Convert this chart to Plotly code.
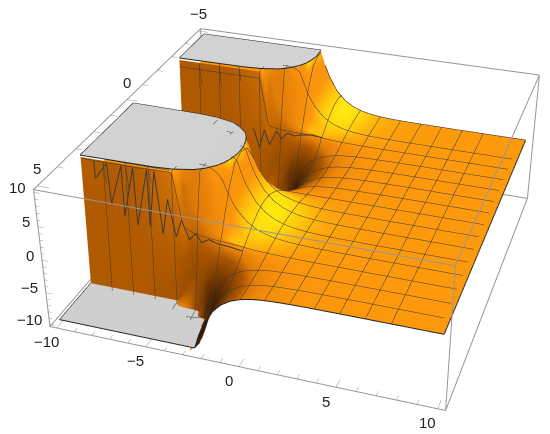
"""Clipped surface plot with grey caps, in a Mathematica-like box."""

import numpy as np
import plotly.graph_objects as go

x_grid = [-10, -7, -5, -4.5, -4, -3.5, -3, -2.75, -2.5, -2.25, -2, -1.5, -1, -0.5, 0, 0.5, 1, 1.5, 2, 3, 5, 10]
y_grid = [-5, -4.71, -4.25, -3.8, -3.5, -3.24, -3.13, -3.04, -2.8, -2.4, -2, -1.57, -1.14, -0.74, -0.34, -0.1,
          0.1, 0.34, 0.74, 1.14, 1.57, 2, 2.4, 2.8, 3.04, 3.13, 3.24, 3.5, 3.8, 4.25, 4.71, 5]

# one row per y_grid value, one column per x_grid value
z_table = [
    [10, 10, 10, 10, 10, 10, 10, 10, 9.69, 7.56, 5.88, 3.57, 2.17, 1.31, 0.8, 0.48, 0.29, 0.18, 0.11, 0.04, 0.01, 0],
    [10, 10, 10, 10, 10, 10, 10, 10, 10, 7.88, 6.13, 3.72, 2.26, 1.37, 0.83, 0.5, 0.31, 0.19, 0.11, 0.04, 0.01, 0],
    [10, 10, 10, 10, 10, 10, 10, 10, 9.04, 7.05, 5.49, 3.33, 2.02, 1.23, 0.74, 0.45, 0.27, 0.17, 0.1, 0.04, 0.01, 0],
    [10, 10, 10, 10, 10, 10, 10, 7.96, 6.18, 4.82, 3.75, 2.28, 1.38, 0.84, 0.51, 0.31, 0.19, 0.11, 0.07, 0.03, 0, 0],
    [10, 10, 10, 10, 10, 9.65, 5.86, 4.56, 3.55, 2.77, 2.15, 1.31, 0.79, 0.48, 0.29, 0.18, 0.11, 0.06, 0.04, 0.01, 0, 0],
    [10, 10, 10, 7.47, 4.53, 2.75, 1.67, 1.3, 1.01, 0.79, 0.61, 0.37, 0.23, 0.14, 0.08, 0.05, 0.03, 0.02, 0.01, 0, 0, 0],
    [10, 10, 10, 1.5, 1, 0.8, 0.7, 0.65, 0.6, 0.6, 0.55, 0.45, 0.3, 0.2, 0.12, 0.08, 0.05, 0.03, 0.02, 0.01, 0, 0],
    [-10, -10, -10, -7.47, -4.53, -2.75, -1.67, -1.3, -1.01, -0.79, -0.61, -0.37, -0.23, -0.14, -0.08, -0.05, -0.03, -0.02, -0.01, 0, 0, 0],
    [-10, -10, -10, -10, -10, -9.21, -5.59, -4.36, -3.38, -2.64, -2.05, -1.25, -0.76, -0.46, -0.28, -0.17, -0.1, -0.06, -0.04, -0.01, 0, 0],
    [-10, -10, -10, -10, -10, -10, -10, -8.76, -6.81, -5.31, -4.13, -2.51, -1.52, -0.92, -0.56, -0.34, -0.21, -0.12, -0.08, -0.03, 0, 0],
    [-10, -10, -10, -10, -10, -10, -10, -10, -9.18, -7.16, -5.57, -3.38, -2.05, -1.25, -0.75, -0.45, -0.28, -0.17, -0.1, -0.04, -0.01, 0],
    [-10, -10, -10, -10, -10, -10, -10, -10, -10, -7.88, -6.13, -3.72, -2.26, -1.37, -0.83, -0.5, -0.31, -0.19, -0.11, -0.04, -0.01, 0],
    [-10, -10, -10, -10, -10, -10, -10, -10, -9.18, -7.16, -5.57, -3.38, -2.05, -1.25, -0.75, -0.45, -0.28, -0.17, -0.1, -0.04, -0.01, 0],
    [-10, -10, -10, -10, -10, -10, -10, -8.76, -6.81, -5.31, -4.13, -2.51, -1.52, -0.92, -0.56, -0.34, -0.21, -0.12, -0.08, -0.03, 0, 0],
    [-10, -10, -10, -10, -10, -9.16, -5.56, -4.33, -3.36, -2.62, -2.04, -1.24, -0.75, -0.46, -0.28, -0.17, -0.1, -0.06, -0.04, -0.01, 0, 0],
    [-10, -10, -10, -7.47, -4.53, -2.75, -1.67, -1.3, -1.01, -0.79, -0.61, -0.37, -0.23, -0.14, -0.08, -0.05, -0.03, -0.02, -0.01, 0, 0, 0],
    [10, 10, 10, 7.47, 4.53, 2.75, 1.67, 1.3, 1.01, 0.79, 0.61, 0.37, 0.23, 0.14, 0.08, 0.05, 0.03, 0.02, 0.01, 0, 0, 0],
    [10, 10, 10, 10, 10, 9.16, 5.56, 4.33, 3.36, 2.62, 2.04, 1.24, 0.75, 0.46, 0.28, 0.17, 0.1, 0.06, 0.04, 0.01, 0, 0],
    [10, 10, 10, 10, 10, 10, 10, 8.76, 6.81, 5.31, 4.13, 2.51, 1.52, 0.92, 0.56, 0.34, 0.21, 0.12, 0.08, 0.03, 0, 0],
    [10, 10, 10, 10, 10, 10, 10, 10, 9.18, 7.16, 5.57, 3.38, 2.05, 1.25, 0.75, 0.45, 0.28, 0.17, 0.1, 0.04, 0.01, 0],
    [10, 10, 10, 10, 10, 10, 10, 10, 10, 7.88, 6.13, 3.72, 2.26, 1.37, 0.83, 0.5, 0.31, 0.19, 0.11, 0.04, 0.01, 0],
    [10, 10, 10, 10, 10, 10, 10, 10, 9.18, 7.16, 5.57, 3.38, 2.05, 1.25, 0.75, 0.45, 0.28, 0.17, 0.1, 0.04, 0.01, 0],
    [10, 10, 10, 10, 10, 10, 10, 8.76, 6.81, 5.31, 4.13, 2.51, 1.52, 0.92, 0.56, 0.34, 0.21, 0.12, 0.08, 0.03, 0, 0],
    [10, 10, 10, 10, 10, 9.21, 5.59, 4.36, 3.38, 2.64, 2.05, 1.25, 0.76, 0.46, 0.28, 0.17, 0.1, 0.06, 0.04, 0.01, 0, 0],
    [10, 10, 10, 7.47, 4.53, 2.75, 1.67, 1.3, 1.01, 0.79, 0.61, 0.37, 0.23, 0.14, 0.08, 0.05, 0.03, 0.02, 0.01, 0, 0, 0],
    [10, 10, 10, 1.5, 1, 0.8, 0.7, 0.65, 0.6, 0.6, 0.55, 0.45, 0.3, 0.2, 0.12, 0.08, 0.05, 0.03, 0.02, 0.01, 0, 0],
    [-10, -10, -10, -7.47, -4.53, -2.75, -1.67, -1.3, -1.01, -0.79, -0.61, -0.37, -0.23, -0.14, -0.08, -0.05, -0.03, -0.02, -0.01, 0, 0, 0],
    [-10, -10, -10, -10, -10, -9.65, -5.86, -4.56, -3.55, -2.77, -2.15, -1.31, -0.79, -0.48, -0.29, -0.18, -0.11, -0.06, -0.04, -0.01, 0, 0],
    [-10, -10, -10, -10, -10, -10, -10, -7.96, -6.18, -4.82, -3.75, -2.28, -1.38, -0.84, -0.51, -0.31, -0.19, -0.11, -0.07, -0.03, 0, 0],
    [-10, -10, -10, -10, -10, -10, -10, -10, -9.04, -7.05, -5.49, -3.33, -2.02, -1.23, -0.74, -0.45, -0.27, -0.17, -0.1, -0.04, -0.01, 0],
    [-10, -10, -10, -10, -10, -10, -10, -10, -10, -7.88, -6.13, -3.72, -2.26, -1.37, -0.83, -0.5, -0.31, -0.19, -0.11, -0.04, -0.01, 0],
    [-10, -10, -10, -10, -10, -10, -10, -10, -9.69, -7.56, -5.88, -3.57, -2.17, -1.31, -0.8, -0.48, -0.29, -0.18, -0.11, -0.04, -0.01, 0],
]

# outlines of the clipped areas
cap_top_far_x = [-10, -2.53, -2.49, -2.5, -2.6, -2.75, -3, -3.5, -4, -5, -6, -10]
cap_top_far_y = [-5, -5, -4.71, -4.54, -4.25, -4.01, -3.78, -3.51, -3.36, -3.22, -3.17, -3.14]
cap_top_mid_x = [-10, -6, -5, -4, -3.5, -3, -2.75, -2.6, -2.5, -2.49, -2.5, -2.6, -2.75, -3, -3.5, -4, -5, -6, -10]
cap_top_mid_y = [0, 0.03, 0.08, 0.22, 0.37, 0.64, 0.87, 1.11, 1.4, 1.57, 1.74, 2.03, 2.27, 2.5, 2.77, 2.92, 3.06, 3.11, 3.14]
cap_low_mid_x = [-10, -6, -5, -4, -3.5, -3, -2.75, -2.6, -2.5, -2.49, -2.5, -2.6, -2.75, -3, -3.5, -4, -5, -6, -10]
cap_low_mid_y = [-3.14, -3.11, -3.06, -2.92, -2.77, -2.5, -2.27, -2.03, -1.74, -1.57, -1.4, -1.11, -0.87, -0.64, -0.37, -0.22, -0.08, -0.03, 0]
cap_low_near_x = [-10, -6, -5, -4, -3.5, -3, -2.75, -2.6, -2.5, -2.49, -2.53, -10]
cap_low_near_y = [3.14, 3.17, 3.22, 3.36, 3.51, 3.78, 4.01, 4.25, 4.54, 4.71, 5, 5]

# the mesh line that runs along each wall is badly sampled and zigzags
near_zigzag_x = [-9.1, -9.1, -8.4, -8.3, -7.6, -7.6, -6.96, -6.9, -6.2, -6.2, -5.8, -5.5, -5.15, -4.78, -4.44, -4.06,
                 -3.7, -3.4, -3, -2.5, -1.93, -1.2]
near_zigzag_z = [9.9, 7.3, 9.9, 3.9, 9.9, 2.3, 9.9, 1.3, 9.9, 1.5, 9.9, 0.7, 6.1, 0.6, 3.3, 0.5, 1.7, 0.4, 1.1, 0.7, 0.6, 0.3]
far_zigzag_x = [-5.35, -5, -4.67, -4.36, -3.92, -3.6, -3.24, -2.81, -2.38, -1.71, -1.09]
far_zigzag_z = [0.5, -2.6, 0.48, -1.87, 0.62, -0.54, 0.6, 0.28, 0.64, 0.93, 0.69]

x_ticks = [-10, -5, 0, 5, 10]
y_ticks = [-5, 0, 5]
z_ticks = [-10, -5, 0, 5, 10]
x_minor = list(range(-10, 11))
y_minor = list(range(-5, 6))
z_minor = list(range(-10, 11))
x_box = [-10.4, 10.4]
y_box = [-5.2, 5.2]
z_box = [-10.4, 10.4]

LINE = "#3a3a3a"
BOX = "#969696"
GREY = "#cccccc"
CAP_LIFT = 0.3
SINK = 4

# The picture shows y growing toward the viewer, so y is plotted negated.
xs = np.array(x_grid, dtype=float)
ys = -np.array(y_grid[::-1], dtype=float)
zs = np.array(z_table[::-1], dtype=float)


def label(value):
    return str(value).replace("-", "\u2212")


def shade_of(z):
    """Fake the coloured lights: glow facing +x, dark facing -x, walls in between."""
    sx = 1.0 / (x_box[1] - x_box[0])
    sy = 1.0 / (y_box[1] - y_box[0])
    sz = 0.39 / (z_box[1] - z_box[0])
    dy, dx = np.gradient(z * sz, ys * sy, xs * sx)
    norm = np.sqrt(dx**2 + dy**2 + 1)
    nx = -dx / norm
    tilt = 1 - 1 / norm
    along_x = dx**2 / (dx**2 + dy**2 + 1e-9)
    return nx * np.where(nx > 0, 1.0, 1.7) - tilt * (1.51 * along_x + 0.9 * (1 - along_x))


def sheet_heights(z):
    """Sink the inside of each clipped area under its cap so no mesh shows through."""
    out = z - CAP_LIFT * (z >= 10)
    flat = np.abs(z) >= 10
    for j in range(z.shape[0]):
        for i in range(z.shape[1]):
            around = z[max(j - 1, 0):j + 2, max(i - 1, 0):i + 2]
            if flat[j, i] and np.all(around == z[j, i]):
                out[j, i] = z[j, i] - SINK
    return out


def segments(starts, ends):
    out = ([], [], [])
    for a, b in zip(starts, ends):
        for k in range(3):
            out[k].extend([a[k], b[k], None])
    return out


def line_trace(pts, color, width):
    return go.Scatter3d(x=pts[0], y=pts[1], z=pts[2], mode="lines", hoverinfo="skip",
                        line=dict(color=color, width=width), showlegend=False)


def cap_trace(cx, cy, level):
    return go.Scatter3d(x=cx + cx[:1], y=[-v for v in cy + cy[:1]], z=[level] * (len(cx) + 1),
                        mode="lines", line=dict(color="#222222", width=2), hoverinfo="skip",
                        surfaceaxis=2, surfacecolor=GREY, showlegend=False)


fig = go.Figure()

fig.add_trace(go.Surface(
    x=xs, y=ys, z=sheet_heights(zs),
    surfacecolor=shade_of(zs), cmin=-2.5, cmax=0.32, showscale=False, hoverinfo="skip",
    colorscale=[[0, "#3a1800"], [0.319, "#7a3d00"], [0.567, "#ab5600"], [0.709, "#e07c08"],
                [0.851, "#f8920c"], [0.887, "#fc980c"], [0.94, "#ffc80c"], [0.993, "#ffe810"], [1, "#ffe810"]],
    lighting=dict(ambient=1, diffuse=0, specular=0, roughness=1, fresnel=0),
    contours=dict(
        x=dict(show=True, start=-8.75, end=8.75, size=1.25, color=LINE, width=3, highlight=False),
        y=dict(show=True, start=-4.375, end=4.375, size=0.625, color=LINE, width=3, highlight=False),
        z=dict(highlight=False),
    ),
))

fig.add_trace(cap_trace(cap_top_far_x, cap_top_far_y, 10))
fig.add_trace(cap_trace(cap_top_mid_x, cap_top_mid_y, 10))
fig.add_trace(cap_trace(cap_low_mid_x, cap_low_mid_y, -10 + CAP_LIFT))
fig.add_trace(cap_trace(cap_low_near_x, cap_low_near_y, -10 + CAP_LIFT))

# zigzags, set just in front of the walls they run along
fig.add_trace(line_trace((near_zigzag_x, [-3.28] * len(near_zigzag_x), near_zigzag_z), LINE, 2))
fig.add_trace(line_trace((far_zigzag_x, [3.0] * len(far_zigzag_x), far_zigzag_z), LINE, 2))

# outer edges of the sheet
fig.add_trace(line_trace((xs[-1] * np.ones(len(ys)), ys, zs[:, -1]), "#222222", 2))
fig.add_trace(line_trace((xs[8:], ys[0] * np.ones(len(xs) - 8), zs[0, 8:]), "#222222", 2))
fig.add_trace(line_trace((xs[9:], ys[-1] * np.ones(len(xs) - 9), zs[-1, 9:]), "#222222", 2))

# box, pulled in a hair because lines exactly on the axis range get clipped away
inset = 0.998
corners = [(a * inset, b * inset, c * inset) for a in x_box for b in y_box for c in z_box]
pairs = [(p, q) for i, p in enumerate(corners) for q in corners[i + 1:]
         if sum(u != v for u, v in zip(p, q)) == 1]
fig.add_trace(line_trace(segments([p for p, _ in pairs], [q for _, q in pairs]), BOX, 2))

# tick marks; the box front is y=+5 in picture terms, i.e. y_box[0] once negated
front = y_box[0] * inset
low, high = z_box[0] * inset, z_box[1] * inset
left = x_box[0] * inset
tick_a, tick_b = [], []
for v in x_minor:
    size = 0.32 if v in x_ticks else 0.18
    tick_a.append((v, front, low))
    tick_b.append((v, front + size, low))
for v in y_minor:
    size = 0.64 if v in y_ticks else 0.36
    tick_a.append((left, -v, high))
    tick_b.append((left + size, -v, high))
for v in z_minor:
    size = 0.32 if v in z_ticks else 0.18
    tick_a.append((left, front, v))
    tick_b.append((left + size, front, v))
fig.add_trace(line_trace(segments(tick_a, tick_b), BOX, 1))

font = dict(family="Liberation Sans", size=15, color="#222222")
notes = []
for v in x_ticks:
    notes.append(dict(x=v, y=front, z=low, text=label(v), showarrow=False, font=font,
                      xshift=-10, yshift=-14))
for v in y_ticks:
    notes.append(dict(x=left, y=-v, z=high, text=label(v), showarrow=False, font=font,
                      xshift=0, yshift=17))
for v in z_ticks:
    notes.append(dict(x=left, y=front, z=v, text=label(v), showarrow=False, font=font,
                      xanchor="right", xshift=-6, yshift=5))

hidden = dict(visible=False)
fig.update_layout(
    width=1400, height=1093, autosize=False,
    margin=dict(l=0, r=0, t=0, b=0), paper_bgcolor="white",
    showlegend=False,
    scene=dict(
        domain=dict(x=[0, 1], y=[0, 1]),
        xaxis=dict(range=x_box, **hidden),
        yaxis=dict(range=y_box, **hidden),
        zaxis=dict(range=z_box, **hidden),
        aspectmode="manual", aspectratio=dict(x=1, y=1, z=0.39),
        camera=dict(eye=dict(x=0.95, y=-2.80, z=1.72), center=dict(x=0, y=0, z=0), up=dict(x=0, y=0, z=1)),
        annotations=notes,
    ),
)

# Plotly's field of view is fixed, so the flatter perspective of the picture needs a
# taller scene; shift it so that its middle lands on the box centre in the window.
shift = ("var gd=document.getElementById('{plot_id}');gd.style.position='fixed';"
         "gd.style.left='-393px';gd.style.top='-352px';document.body.style.overflow='hidden';")
fig.write_html("out.html", post_script=shift)
